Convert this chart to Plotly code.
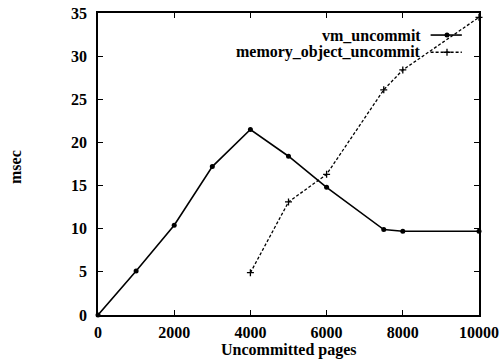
import plotly.graph_objects as go

# Data
vm_pages = [0, 1000, 2000, 3000, 4000, 5000, 6000, 7500, 8000, 10000]
vm_msec = [0, 5.1, 10.4, 17.2, 21.5, 18.4, 14.8, 9.9, 9.7, 9.7]

mo_pages = [4000, 5000, 6000, 7500, 8000, 10000]
mo_msec = [4.9, 13.1, 16.3, 26.1, 28.4, 34.5]

x_ticks = [0, 2000, 4000, 6000, 8000, 10000]
y_ticks = [0, 5, 10, 15, 20, 25, 30, 35]

series_names = ["vm_uncommit", "memory_object_uncommit"]

SERIF = "Liberation Serif, Times New Roman, serif"
tick_font = dict(family=SERIF, size=16, color="black", weight="bold")

LEG_Y1 = 0.927
LEG_Y2 = 0.870
LEG_TX = 0.853
LEG_X0, LEG_X1, LEG_XM = 0.873, 0.955, 0.916

fig = go.Figure()

fig.add_trace(go.Scatter(
    x=vm_pages, y=vm_msec, mode="lines+markers", name=series_names[0],
    line=dict(color="black", width=1.6),
    marker=dict(symbol="circle", size=5, color="black"),
    showlegend=False, cliponaxis=False,
))
fig.add_trace(go.Scatter(
    x=mo_pages, y=mo_msec, mode="lines+markers", name=series_names[1],
    line=dict(color="black", width=1.3, dash="3px,2px"),
    marker=dict(symbol="cross-thin", size=5, line=dict(color="black", width=1.3)),
    showlegend=False, cliponaxis=False,
))

# Legend samples drawn on a hidden overlay axis (text placed left of the sample, as in the reference)
fig.add_trace(go.Scatter(
    x=[LEG_X0, LEG_X1], y=[LEG_Y1, LEG_Y1], mode="lines", xaxis="x2", yaxis="y2",
    line=dict(color="black", width=1.6), showlegend=False, hoverinfo="skip",
))
fig.add_trace(go.Scatter(
    x=[LEG_XM], y=[LEG_Y1], mode="markers", xaxis="x2", yaxis="y2",
    marker=dict(symbol="circle", size=5, color="black"), showlegend=False, hoverinfo="skip",
))
fig.add_trace(go.Scatter(
    x=[LEG_X0, LEG_X1], y=[LEG_Y2, LEG_Y2], mode="lines", xaxis="x2", yaxis="y2",
    line=dict(color="black", width=1.3, dash="3px,2px"), showlegend=False, hoverinfo="skip",
))
fig.add_trace(go.Scatter(
    x=[LEG_XM], y=[LEG_Y2], mode="markers", xaxis="x2", yaxis="y2",
    marker=dict(symbol="cross-thin", size=5, line=dict(color="black", width=1.3)),
    showlegend=False, hoverinfo="skip",
))

leg_font = dict(family=SERIF, size=16, color="black", weight="bold")
annotations = [
    dict(text=series_names[0], x=LEG_TX, y=LEG_Y1, xref="paper", yref="paper",
         xanchor="right", yanchor="middle", showarrow=False, font=leg_font),
    dict(text=series_names[1], x=LEG_TX, y=LEG_Y2, xref="paper", yref="paper",
         xanchor="right", yanchor="middle", showarrow=False, font=leg_font),
    dict(text="Uncommitted pages", x=0.5, y=-0.115, xref="paper", yref="paper",
         xanchor="center", yanchor="middle", showarrow=False,
         font=dict(family=SERIF, size=16, color="black", weight="bold")),
    dict(text="msec", x=-0.218, y=0.49, xref="paper", yref="paper", textangle=-90,
         xanchor="center", yanchor="middle", showarrow=False,
         font=dict(family=SERIF, size=16, color="black", weight="bold")),
]

fig.update_layout(
    width=501, height=360,
    margin=dict(l=98, r=22, t=13, b=45, autoexpand=False),
    paper_bgcolor="white", plot_bgcolor="white",
    showlegend=False,
    annotations=annotations,
    xaxis=dict(
        range=[0, 10000], tickvals=x_ticks, ticktext=[str(v) for v in x_ticks],
        ticks="inside", ticklen=5, tickwidth=1, tickcolor="black",
        showline=True, linecolor="black", linewidth=1.5, mirror="ticks",
        showgrid=False, zeroline=False, tickfont=tick_font, ticklabelstandoff=2,
        automargin=False,
    ),
    yaxis=dict(
        range=[0, 35], tickvals=y_ticks, ticktext=[str(v) for v in y_ticks],
        ticks="inside", ticklen=5, tickwidth=1, tickcolor="black",
        showline=True, linecolor="black", linewidth=1.5, mirror="ticks",
        showgrid=False, zeroline=False, tickfont=tick_font, ticklabelstandoff=6,
        automargin=False,
    ),
    xaxis2=dict(range=[0, 1], overlaying="x", visible=False, fixedrange=True),
    yaxis2=dict(range=[0, 1], overlaying="y", visible=False, fixedrange=True),
)

fig.write_html("out.html", config={"displayModeBar": False})

# remove the browser's default body margin so the figure sits at the page origin
with open("out.html", "r", encoding="utf-8") as f:
    html = f.read()
html = html.replace("<body>", '<body style="margin:0;padding:0;">', 1)
with open("out.html", "w", encoding="utf-8") as f:
    f.write(html)
